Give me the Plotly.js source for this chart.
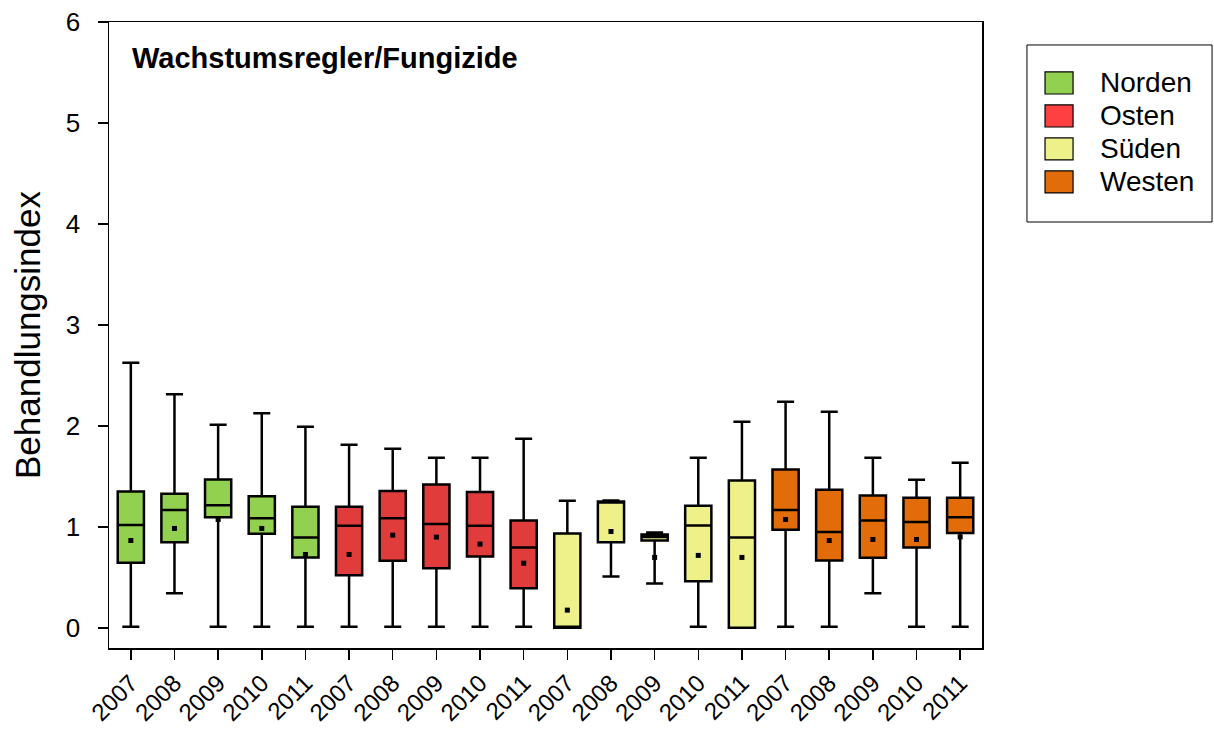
<!DOCTYPE html>
<html>
<head>
<meta charset="utf-8">
<script src="https://cdn.plot.ly/plotly-3.0.1.min.js"></script>
<style>html,body{margin:0;padding:0;background:#fff}#chart{width:1214px;height:730px}</style>
</head>
<body>
<div id="chart"></div>
<script>
const regions = ["Norden", "Osten", "Süden", "Westen"];
const years = ["2007", "2008", "2009", "2010", "2011"];
const colors = ["#92D050", "#E03C3C", "#EEF08A", "#E36C0A"];
const legendColors = ["#92D050", "#FF4040", "#EEF08A", "#E36C0A"];

// per region: values for 2007..2011
const q1 = [
  [0.644, 0.848, 1.096, 0.932, 0.697],
  [0.521, 0.664, 0.591, 0.706, 0.392],
  [0.0, 0.848, 0.865, 0.462, 0.0],
  [0.971, 0.667, 0.694, 0.796, 0.938]
];
const median = [
  [1.017, 1.166, 1.215, 1.086, 0.895],
  [1.011, 1.086, 1.027, 1.011, 0.796],
  [0.0, 1.25, 0.90, 1.014, 0.895],
  [1.166, 0.948, 1.063, 1.047, 1.096]
];
const q3 = [
  [1.351, 1.328, 1.470, 1.304, 1.199],
  [1.199, 1.354, 1.420, 1.344, 1.063],
  [0.935, 1.250, 0.925, 1.209, 1.460],
  [1.569, 1.368, 1.311, 1.288, 1.288]
];
const lower = [
  [0.01, 0.343, 0.01, 0.01, 0.01],
  [0.01, 0.01, 0.01, 0.01, 0.01],
  [0.0, 0.508, 0.439, 0.01, 0.0],
  [0.01, 0.01, 0.343, 0.01, 0.01]
];
const upper = [
  [2.626, 2.312, 2.012, 2.124, 1.992],
  [1.814, 1.774, 1.685, 1.685, 1.873],
  [1.258, 1.262, 0.944, 1.685, 2.042],
  [2.240, 2.141, 1.685, 1.467, 1.635]
];
const means = [
  [0.865, 0.984, 1.073, 0.984, 0.726],
  [0.726, 0.918, 0.898, 0.829, 0.640],
  [0.175, 0.954, 0.697, 0.717, 0.697],
  [1.073, 0.865, 0.875, 0.875, 0.900]
];

const FONT = "Liberation Sans, Arial, sans-serif";
const traces = [];
const tickvals = [], ticktext = [];
regions.forEach((r, i) => {
  const xs = years.map((y, j) => i * years.length + j);
  xs.forEach((x, j) => { tickvals.push(x); ticktext.push(years[j]); });
  traces.push({
    type: "box", name: r, x: xs,
    q1: q1[i], median: median[i], q3: q3[i],
    lowerfence: lower[i], upperfence: upper[i],
    boxpoints: false, width: 0.6, whiskerwidth: 0.65,
    fillcolor: colors[i], line: { color: "#000", width: 2.5 },
    hoverinfo: "skip", showlegend: false
  });
});
regions.forEach((r, i) => {
  const xs = years.map((y, j) => i * years.length + j);
  traces.push({
    type: "scatter", mode: "markers", x: xs, y: means[i],
    marker: { symbol: "square", size: 5, color: "#000" },
    showlegend: false, hoverinfo: "skip"
  });
});

// hand-made legend (paper coordinates)
const shapes = [{
  type: "rect", xref: "paper", yref: "paper",
  x0: 1.0515, x1: 1.2635, y0: 0.6805, y1: 0.9633,
  line: { color: "#000", width: 1 }, fillcolor: "#fff"
}];
const annotations = [{
  xref: "paper", yref: "paper", x: 0.024, y: 0.9425, xanchor: "left", yanchor: "middle",
  text: "<b>Wachstumsregler/Fungizide</b>", showarrow: false,
  font: { size: 29, family: FONT, color: "#000" }
}];
regions.forEach((r, i) => {
  const yc = 0.9026 - i * 0.0527;
  shapes.push({
    type: "rect", xref: "paper", yref: "paper",
    x0: 1.0722, x1: 1.1043, y0: yc - 0.0176, y1: yc + 0.0176,
    line: { color: "#000", width: 1.2 }, fillcolor: legendColors[i]
  });
  annotations.push({
    xref: "paper", yref: "paper", x: 1.1329, y: yc, xanchor: "left", yanchor: "middle",
    text: r, showarrow: false, font: { size: 28, family: FONT, color: "#000" }
  });
});

const layout = {
  width: 1214, height: 730,
  margin: { l: 109, r: 232, t: 22, b: 82 },
  paper_bgcolor: "#fff", plot_bgcolor: "#fff",
  font: { family: FONT, color: "#000" },
  showlegend: false,
  xaxis: {
    range: [-0.5, 19.5], tickmode: "array", tickvals: tickvals, ticktext: ticktext,
    tickangle: -45, ticks: "outside", ticklen: 10, tickwidth: 1.5, tickcolor: "#000",
    showline: true, linecolor: "#000", linewidth: 1.5, mirror: true,
    showgrid: false, zeroline: false, tickfont: { size: 24, family: FONT },
    ticklabelstandoff: 0
  },
  yaxis: {
    range: [-0.2, 6], tickvals: [0, 1, 2, 3, 4, 5, 6],
    ticks: "outside", ticklen: 10, tickwidth: 1.5, tickcolor: "#000",
    showline: true, linecolor: "#000", linewidth: 1.5, mirror: true,
    showgrid: false, zeroline: false, tickfont: { size: 26, family: FONT },
    ticklabelstandoff: 12,
    title: { text: "Behandlungsindex", font: { size: 35, family: FONT }, standoff: 14 }
  },
  shapes: shapes,
  annotations: annotations
};

Plotly.newPlot("chart", traces, layout, { staticPlot: true });
</script>
</body>
</html>
